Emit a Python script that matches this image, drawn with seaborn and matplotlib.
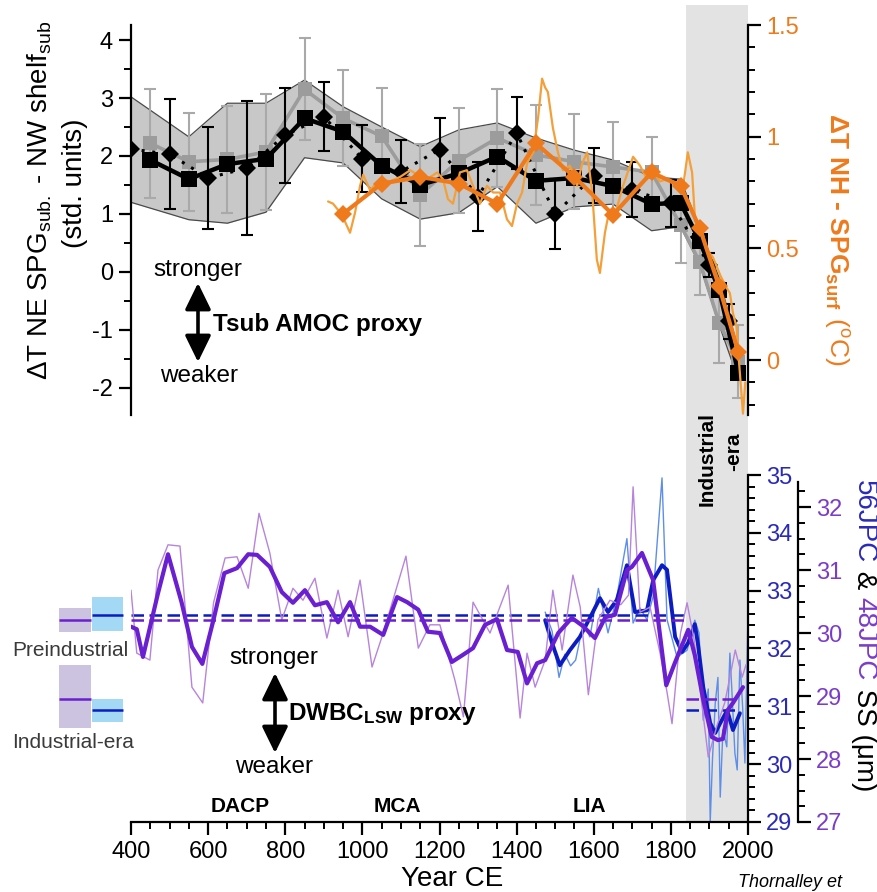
import matplotlib
matplotlib.use("Agg")
import matplotlib.pyplot as plt
from matplotlib.ticker import MultipleLocator, FixedLocator
from matplotlib.patches import FancyArrowPatch
import seaborn as sns

# ---------------- data ----------------
# Top panel: Tsub AMOC proxy (std. units)
band_years = [400, 550, 650, 750, 850, 950, 1050, 1150, 1250, 1350, 1450, 1550, 1650, 1750, 1825, 1875, 1925, 1975]
band_upper = [3.02, 2.33, 2.91, 2.91, 3.31, 2.85, 2.50, 2.16, 2.45, 2.57, 2.31, 2.10, 1.93, 1.64, 1.60, 0.75, -0.10, -1.35]
band_lower = [1.20, 0.90, 0.84, 1.03, 1.97, 1.88, 1.26, 0.91, 1.02, 1.47, 0.84, 1.12, 1.17, 0.71, 0.78, 0.12, -0.91, -1.86]

sq_years = [450, 550, 650, 750, 850, 950, 1050, 1150, 1250, 1350, 1450, 1550, 1650, 1750, 1825, 1875, 1925, 1975]
black_sq = [1.93, 1.60, 1.86, 1.95, 2.65, 2.42, 1.83, 1.50, 1.70, 1.99, 1.57, 1.62, 1.48, 1.17, 1.19, 0.53, -0.31, -1.74]
gray_sq = [2.22, 1.90, 1.94, 2.07, 3.15, 2.65, 2.34, 1.33, 1.92, 2.31, 2.02, 1.90, 1.81, 1.72, 0.81, 0.17, -0.88, -1.55]
gray_err = [0.94, 0.85, 0.92, 1.00, 0.88, 0.83, 0.83, 0.88, 0.91, 0.84, 0.86, 0.82, 0.78, 0.60, 0.65, 0.57, 0.70, 0.63]

dia_years = [400, 500, 600, 700, 800, 900, 1000, 1100, 1200, 1300, 1400, 1500, 1600, 1700, 1800, 1900, 1950]
black_dia = [2.12, 2.03, 1.62, 1.79, 2.36, 2.68, 1.95, 1.73, 2.11, 1.30, 2.40, 1.00, 1.66, 1.42, 1.18, 0.12, -0.85]
black_dia_err = [0.0, 0.95, 0.88, 1.15, 0.82, 0.60, 0.58, 0.55, 0.55, 0.60, 0.62, 0.60, 0.47, 0.48, 0.40, 0.20, 0.30]

# Top panel right axis: dT NH - SPG surf (deg C)
orange_dia_years = [950, 1050, 1150, 1250, 1350, 1450, 1550, 1650, 1750, 1825, 1875, 1925, 1975]
orange_dia = [0.655, 0.79, 0.82, 0.79, 0.70, 0.97, 0.82, 0.65, 0.84, 0.78, 0.59, 0.33, 0.035]
orange_thin_years = [911, 924, 947, 968, 981, 994, 1002, 1020, 1046, 1072, 1098, 1124, 1142, 1168, 1194, 1209,
                     1222, 1235, 1253, 1271, 1287, 1305, 1323, 1339, 1357, 1375, 1388, 1401, 1414, 1427, 1443,
                     1456, 1466, 1474, 1481, 1494, 1507, 1520, 1538, 1557, 1570, 1583, 1596, 1608, 1616, 1629,
                     1637, 1650, 1663, 1676, 1690, 1702, 1720, 1738, 1754, 1772, 1790, 1806, 1832, 1844, 1855,
                     1863, 1876, 1891, 1909, 1928, 1942, 1953, 1961, 1970, 1979, 1987, 1993]
orange_thin = [0.71, 0.70, 0.65, 0.57, 0.66, 0.78, 0.83, 0.76, 0.81, 0.80, 0.82, 0.85, 0.83, 0.81, 0.84, 0.81,
               0.72, 0.70, 0.84, 0.85, 0.78, 0.70, 0.78, 0.75, 0.75, 0.63, 0.60, 0.70, 0.75, 0.88, 0.93,
               1.09, 1.26, 1.22, 1.20, 1.04, 0.93, 0.85, 0.87, 0.78, 0.88, 0.93, 0.75, 0.45, 0.39, 0.57,
               0.64, 0.62, 0.70, 0.78, 0.85, 0.91, 0.87, 0.81, 0.84, 0.80, 0.81, 0.80, 0.78, 0.93, 0.84,
               0.62, 0.62, 0.50, 0.46, 0.38, 0.33, 0.30, 0.21, 0.15, -0.06, -0.24, -0.10]

# Bottom panel: 48JPC (purple axis) and 56JPC (blue axis) sortable silt (um)
p48_years = [400, 415, 431, 470, 496, 531, 558, 585, 614, 642, 675, 704, 727, 760, 791, 820, 851, 877, 908, 937,
             968, 994, 1020, 1054, 1090, 1116, 1145, 1170, 1201, 1232, 1260, 1287, 1318, 1349, 1375, 1403,
             1427, 1453, 1474, 1508, 1543, 1572, 1603, 1630, 1655, 1686, 1699, 1725, 1754, 1788, 1810, 1845,
             1862, 1884, 1906, 1922, 1935, 1948, 1961, 1987]
p48_smooth = [30.10, 30.06, 29.62, 30.63, 31.25, 30.49, 29.78, 29.51, 30.21, 30.95, 31.03, 31.25, 31.24, 31.05,
              30.65, 30.48, 30.68, 30.44, 30.49, 30.17, 30.49, 30.10, 30.10, 29.97, 30.57, 30.49, 30.37, 30.02,
              30.00, 29.54, 29.65, 29.76, 30.13, 30.22, 29.73, 29.70, 29.20, 29.52, 29.57, 30.00, 30.24, 30.11,
              29.92, 30.25, 30.29, 31.00, 31.05, 31.27, 30.84, 29.17, 29.52, 30.05, 29.65, 28.94, 28.35, 28.30,
              28.32, 28.78, 28.89, 29.14]
p48_raw_years = [400, 415, 449, 470, 496, 527, 558, 586, 614, 644, 675, 704, 732, 760, 791, 820, 846, 877, 908,
                 937, 963, 994, 1025, 1054, 1113, 1145, 1175, 1201, 1240, 1262, 1287, 1331, 1378, 1409, 1427,
                 1448, 1474, 1494, 1518, 1546, 1565, 1586, 1611, 1642, 1670, 1690, 1702, 1720, 1746, 1772,
                 1790, 1803, 1825, 1842, 1860, 1897, 1920, 1940, 1967, 1985, 1995]
p48_raw = [30.68, 29.68, 29.57, 31.00, 31.40, 31.38, 29.14, 28.89, 30.48, 31.19, 31.21, 30.71, 31.90, 31.27,
           30.21, 30.71, 30.52, 30.87, 29.92, 30.68, 29.94, 30.84, 29.46, 30.00, 31.22, 29.76, 30.13, 30.13,
           29.25, 28.67, 30.49, 30.00, 30.76, 28.65, 29.68, 29.14, 29.57, 30.68, 29.73, 30.92, 30.41, 29.02,
           30.21, 30.52, 30.45, 30.60, 32.32, 30.33, 30.41, 29.68, 29.06, 28.56, 30.00, 30.48, 29.90, 28.03,
           28.54, 28.90, 29.73, 29.30, 29.50]
b56_years = [1474, 1492, 1512, 1538, 1564, 1590, 1616, 1637, 1660, 1686, 1707, 1738, 1754, 1777, 1790, 1811,
             1829, 1845, 1862, 1870, 1884, 1902, 1915, 1928, 1946, 1961, 1979]
b56_smooth = [32.49, 32.09, 31.71, 31.97, 32.20, 32.53, 32.87, 32.63, 32.84, 33.44, 32.63, 32.66, 33.18, 33.44,
              33.36, 32.20, 31.94, 32.10, 32.42, 32.09, 31.33, 30.71, 30.54, 30.71, 30.93, 30.59, 30.88]
b56_raw_years = [1474, 1492, 1510, 1525, 1540, 1553, 1573, 1590, 1612, 1637, 1660, 1686, 1702, 1720, 1738, 1754,
                 1777, 1790, 1816, 1842, 1862, 1873, 1884, 1897, 1902, 1908, 1915, 1922, 1928, 1935, 1945, 1953,
                 1958, 1966, 1972, 1979, 1986, 1992, 2000]
b56_raw = [32.63, 32.30, 31.50, 31.90, 31.70, 31.80, 32.44, 32.20, 33.04, 32.27, 32.90, 33.90, 32.44, 32.70,
           32.50, 32.90, 34.95, 32.50, 31.85, 31.97, 32.49, 32.27, 30.76, 31.30, 29.00, 30.10, 31.05, 31.50,
           29.43, 30.60, 30.30, 31.92, 31.30, 30.19, 29.90, 31.80, 31.00, 30.02, 32.61]

# Era means (dashed lines) and legend boxes
era_names = ["Preindustrial", "Industrial-era"]
era_start = [400, 1840]
era_end = [1840, 1980]
purple_mean = [30.21, 28.95]
purple_lo = [30.02, 28.49]
purple_hi = [30.40, 29.49]
blue_mean = [32.58, 30.94]
blue_lo = [32.30, 30.73]
blue_hi = [32.89, 31.12]

industrial_span = (1840, 2000)
period_labels = ["DACP", "MCA", "LIA"]
period_centers = [683, 1090, 1590]
x_ticks = [400, 600, 800, 1000, 1200, 1400, 1600, 1800, 2000]

# ---------------- style ----------------
sns.set_style("ticks")
plt.rcParams["font.family"] = ["Liberation Sans", "DejaVu Sans"]
plt.rcParams["mathtext.fontset"] = "custom"
plt.rcParams["mathtext.rm"] = "Liberation Sans"
plt.rcParams["mathtext.it"] = "Liberation Sans:italic"
plt.rcParams["mathtext.bf"] = "Liberation Sans:bold"
plt.rcParams["axes.unicode_minus"] = False
plt.rcParams["text.color"] = "black"
plt.rcParams["axes.labelcolor"] = "black"
plt.rcParams["axes.edgecolor"] = "black"
plt.rcParams["xtick.color"] = "black"
plt.rcParams["ytick.color"] = "black"

C_ORANGE = "#ee7a1c"
C_ORANGE_THIN = "#f3a03a"
C_PURPLE = "#6a1fd0"
C_PURPLE_THIN = "#b784dc"
C_PURPLE_LAB = "#7b3cc9"
C_BLUE = "#0c1cc0"
C_BLUE_THIN = "#5f8ee8"
C_BLUE_LAB = "#2a2ab8"

W, H = 877, 892
fig = plt.figure(figsize=(W / 100, H / 100), dpi=100)


def fx(px):
    return px / W


def fy(py):
    return 1 - py / H


L, R = 131, 748

# background industrial-era span across both panels
axbg = fig.add_axes([fx(L), fy(822), fx(R) - fx(L), fy(5) - fy(822)])
axbg.set_xlim(400, 2000)
axbg.axis("off")
axbg.axvspan(*industrial_span, color="#e3e3e3", lw=0)

# ---------------- top panel ----------------
ax1 = fig.add_axes([fx(L), fy(415), fx(R) - fx(L), fy(25) - fy(415)])
ax1.patch.set_alpha(0)
ax1o = ax1.twinx()
ax1.set_xlim(400, 2000)
ax1.set_ylim(-2.47, 4.26)
ax1o.set_ylim(-0.246, 1.5)

ax1.fill_between(band_years, band_lower, band_upper, color="#c8c8c8", lw=0, zorder=1)
sns.lineplot(x=band_years, y=band_upper, ax=ax1, color="#4a4a4a", lw=0.9, sort=False, legend=False, zorder=1.5)
sns.lineplot(x=band_years, y=band_lower, ax=ax1, color="#4a4a4a", lw=0.9, sort=False, legend=False, zorder=1.5)

ax1.errorbar(sq_years, gray_sq, yerr=gray_err, fmt="none", ecolor="#a9a9a9", elinewidth=1.5,
             capsize=4.5, capthick=1.5, zorder=2)
sns.lineplot(x=sq_years, y=gray_sq, ax=ax1, color="#9c9c9c", lw=2.6, marker="s", markersize=9.5,
             markeredgewidth=0, sort=False, legend=False, zorder=2.2)
ax1.errorbar(dia_years, black_dia, yerr=black_dia_err, fmt="none", ecolor="black", elinewidth=1.5,
             capsize=4.5, capthick=1.5, zorder=2.5)
sns.lineplot(x=dia_years, y=black_dia, ax=ax1, color="black", lw=2.2, linestyle=(0, (1, 2.5)), marker="D",
             markersize=9, markeredgewidth=0, sort=False, legend=False, zorder=2.6)
sns.lineplot(x=sq_years, y=black_sq, ax=ax1, color="black", lw=3.2, marker="s", markersize=11.5,
             markeredgewidth=0, sort=False, legend=False, zorder=3)

sns.lineplot(x=orange_thin_years, y=orange_thin, ax=ax1o, color=C_ORANGE_THIN, lw=1.6, sort=False,
             legend=False, zorder=2)
sns.lineplot(x=orange_dia_years, y=orange_dia, ax=ax1o, color=C_ORANGE, lw=3.0, marker="D", markersize=9.5,
             markeredgewidth=0, sort=False, legend=False, zorder=3)

for s in ["top", "bottom", "right"]:
    ax1.spines[s].set_visible(False)
ax1.spines["left"].set_linewidth(1.6)
for s in ["top", "bottom", "left"]:
    ax1o.spines[s].set_visible(False)
ax1o.spines["right"].set_linewidth(1.6)

ax1.yaxis.set_major_locator(FixedLocator([-2, -1, 0, 1, 2, 3, 4]))
ax1.yaxis.set_minor_locator(MultipleLocator(0.5))
ax1.tick_params(axis="y", which="major", direction="out", length=9, width=1.6, labelsize=17, pad=4)
ax1.tick_params(axis="y", which="minor", direction="out", length=5, width=1.4)
ax1.tick_params(axis="x", which="both", bottom=False, labelbottom=False)
ax1.set_xlabel("")
ax1.set_ylabel("")

ax1o.yaxis.set_major_locator(FixedLocator([0, 0.5, 1, 1.5]))
ax1o.set_yticklabels(["0", "0.5", "1", "1.5"])
ax1o.yaxis.set_minor_locator(MultipleLocator(0.1))
ax1o.tick_params(axis="y", which="major", direction="out", length=9, width=1.6, labelsize=17,
                 labelcolor=C_ORANGE, pad=4)
ax1o.tick_params(axis="y", which="minor", direction="out", length=5, width=1.4)
ax1o.set_ylabel("")

# ---------------- bottom panel ----------------
ax2 = fig.add_axes([fx(L), fy(822), fx(R) - fx(L), fy(475) - fy(822)])
ax2.patch.set_alpha(0)
ax2p = ax2.twinx()
ax2.set_xlim(400, 2000)
ax2.set_ylim(29, 35)
ax2p.set_ylim(27, 32.508)

for i in range(2):
    ax2.hlines(blue_mean[i], era_start[i], era_end[i], colors=C_BLUE, lw=1.8,
               linestyles=[(0, (5, 2.2))], zorder=4)
    ax2p.hlines(purple_mean[i], era_start[i], era_end[i], colors=C_PURPLE, lw=1.8,
                linestyles=[(0, (5, 2.2))], zorder=4)

sns.lineplot(x=b56_raw_years, y=b56_raw, ax=ax2, color=C_BLUE_THIN, lw=1.0, sort=False, legend=False, zorder=2)
sns.lineplot(x=b56_years, y=b56_smooth, ax=ax2, color=C_BLUE, lw=2.8, sort=False, legend=False, zorder=3)
sns.lineplot(x=p48_raw_years, y=p48_raw, ax=ax2p, color=C_PURPLE_THIN, lw=1.0, sort=False, legend=False, zorder=2)
sns.lineplot(x=p48_years, y=p48_smooth, ax=ax2p, color=C_PURPLE, lw=3.0, sort=False, legend=False, zorder=3)

ax2.yaxis.tick_right()
for s in ["top", "left"]:
    ax2.spines[s].set_visible(False)
ax2.spines["right"].set_linewidth(1.6)
ax2.spines["bottom"].set_linewidth(1.6)
for s in ["top", "left", "bottom"]:
    ax2p.spines[s].set_visible(False)
ax2p.spines["right"].set_position(("axes", (798 - L) / (R - L)))
ax2p.spines["right"].set_linewidth(1.6)
ax2p.spines["right"].set_bounds(27, 32.4)

ax2.xaxis.set_major_locator(FixedLocator(x_ticks))
ax2.xaxis.set_minor_locator(MultipleLocator(50))
ax2.tick_params(axis="x", which="major", direction="out", length=9, width=1.6, labelsize=17, pad=5)
ax2.tick_params(axis="x", which="minor", direction="out", length=5, width=1.4)
ax2.yaxis.set_major_locator(FixedLocator([29, 30, 31, 32, 33, 34, 35]))
ax2.yaxis.set_minor_locator(MultipleLocator(0.2))
ax2.tick_params(axis="y", which="major", direction="out", length=9, width=1.6, labelsize=17,
                labelcolor=C_BLUE_LAB, pad=4, left=False, right=True, labelleft=False, labelright=True)
ax2.tick_params(axis="y", which="minor", direction="out", length=5, width=1.4, left=False, right=True)
ax2p.yaxis.set_major_locator(FixedLocator([27, 28, 29, 30, 31, 32]))
ax2p.yaxis.set_minor_locator(FixedLocator([27 + 0.25 * k for k in range(22)]))
ax2p.tick_params(axis="y", which="major", direction="out", length=9, width=1.6, labelsize=17,
                 labelcolor=C_PURPLE_LAB, pad=4)
ax2p.tick_params(axis="y", which="minor", direction="out", length=5, width=1.4)
ax2.set_xlabel("")
ax2.set_ylabel("")
ax2p.set_ylabel("")

# period labels
for lab, c in zip(period_labels, period_centers):
    ax2.text(c, 0.046, lab, transform=ax2.get_xaxis_transform(), ha="center", va="center",
             fontsize=15, fontweight="bold")

# ---------------- legend boxes on the left ----------------
axl = fig.add_axes([fx(59), fy(822), fx(124) - fx(59), fy(475) - fy(822)])
axl.patch.set_alpha(0)
axlp = axl.twinx()
for a in (axl, axlp):
    a.set_xlim(-0.5, 1.5)
    a.axis("off")
axl.set_ylim(29, 35)
axlp.set_ylim(27, 32.508)
for i in range(2):
    axlp.bar([0], [purple_hi[i] - purple_lo[i]], bottom=[purple_lo[i]], width=0.97, color="#cbc3df", lw=0)
    axlp.hlines(purple_mean[i], -0.485, 0.485, colors=C_PURPLE, lw=1.8)
    axl.bar([1], [blue_hi[i] - blue_lo[i]], bottom=[blue_lo[i]], width=0.96, color="#a3d9f5", lw=0)
    axl.hlines(blue_mean[i], 0.52, 1.48, colors=C_BLUE, lw=1.8)

fig.text(fx(12), fy(650), era_names[0], ha="left", va="center", fontsize=15, color="#3a3a3a")
fig.text(fx(12), fy(743), era_names[1], ha="left", va="center", fontsize=15, color="#3a3a3a")

# ---------------- texts ----------------
fig.text(fx(40), fy(200), "ΔT NE SPG$_{\\mathregular{sub.}}$ - NW shelf$_{\\mathregular{sub}}$",
         rotation=90, ha="center", va="center", fontsize=20)
fig.text(fx(75), fy(183), "(std. units)", rotation=90, ha="center", va="center", fontsize=20)

renderer = fig.canvas.get_renderer()


def stacked(pieces, x_px, y_top_px):
    y = fy(y_top_px)
    for s, kw in pieces:
        t = fig.text(fx(x_px), y, s, rotation=-90, rotation_mode="anchor", ha="left", va="baseline", **kw)
        bb = t.get_window_extent(renderer=renderer)
        y = bb.y0 / fig.bbox.height


stacked([("ΔT NH - SPG$_{\\mathregular{surf}}$", dict(fontsize=19, fontweight="bold", color=C_ORANGE)),
         (" ($^{\\mathregular{o}}$C)", dict(fontsize=19, color=C_ORANGE))], 829, 113)
stacked([("56JPC", dict(fontsize=20, color=C_BLUE_LAB)),
         (" & ", dict(fontsize=20, color="black")),
         ("48JPC", dict(fontsize=20, color=C_PURPLE_LAB)),
         (" SS (μm)", dict(fontsize=20, color="black"))], 857, 480)

fig.text(fx(452), fy(879), "Year CE", ha="center", va="center", fontsize=20)
fig.text(fx(738), fy(891), "Thornalley et", ha="left", va="bottom", fontsize=13, style="italic")

fig.text(fx(707), fy(459), "Industrial", rotation=90, ha="center", va="center", fontsize=15, fontweight="bold")
fig.text(fx(734), fy(452), "-era", rotation=90, ha="center", va="center", fontsize=15, fontweight="bold")


def arrow(x_px, y0_px, y1_px):
    fig.add_artist(FancyArrowPatch(posA=(fx(x_px), fy(y0_px)), posB=(fx(x_px), fy(y1_px)),
                                   transform=fig.transFigure, arrowstyle="<|-|>,head_length=0.45,head_width=0.22",
                                   mutation_scale=36, lw=2.6, color="black", shrinkA=0, shrinkB=0))


fig.text(fx(198), fy(270), "stronger", ha="center", va="center", fontsize=17.5)
arrow(198, 283, 362)
fig.text(fx(213), fy(324), "Tsub AMOC proxy", ha="left", va="center", fontsize=17.5, fontweight="bold")
fig.text(fx(199), fy(376), "weaker", ha="center", va="center", fontsize=17.5)

fig.text(fx(274), fy(658), "stronger", ha="center", va="center", fontsize=17.5)
arrow(275, 673, 753)
fig.text(fx(288), fy(714), "DWBC$_{\\mathbf{LSW}}$ proxy", ha="left", va="center", fontsize=17.5,
         fontweight="bold")
fig.text(fx(274), fy(767), "weaker", ha="center", va="center", fontsize=17.5)

fig.savefig("out.png", dpi=100)
